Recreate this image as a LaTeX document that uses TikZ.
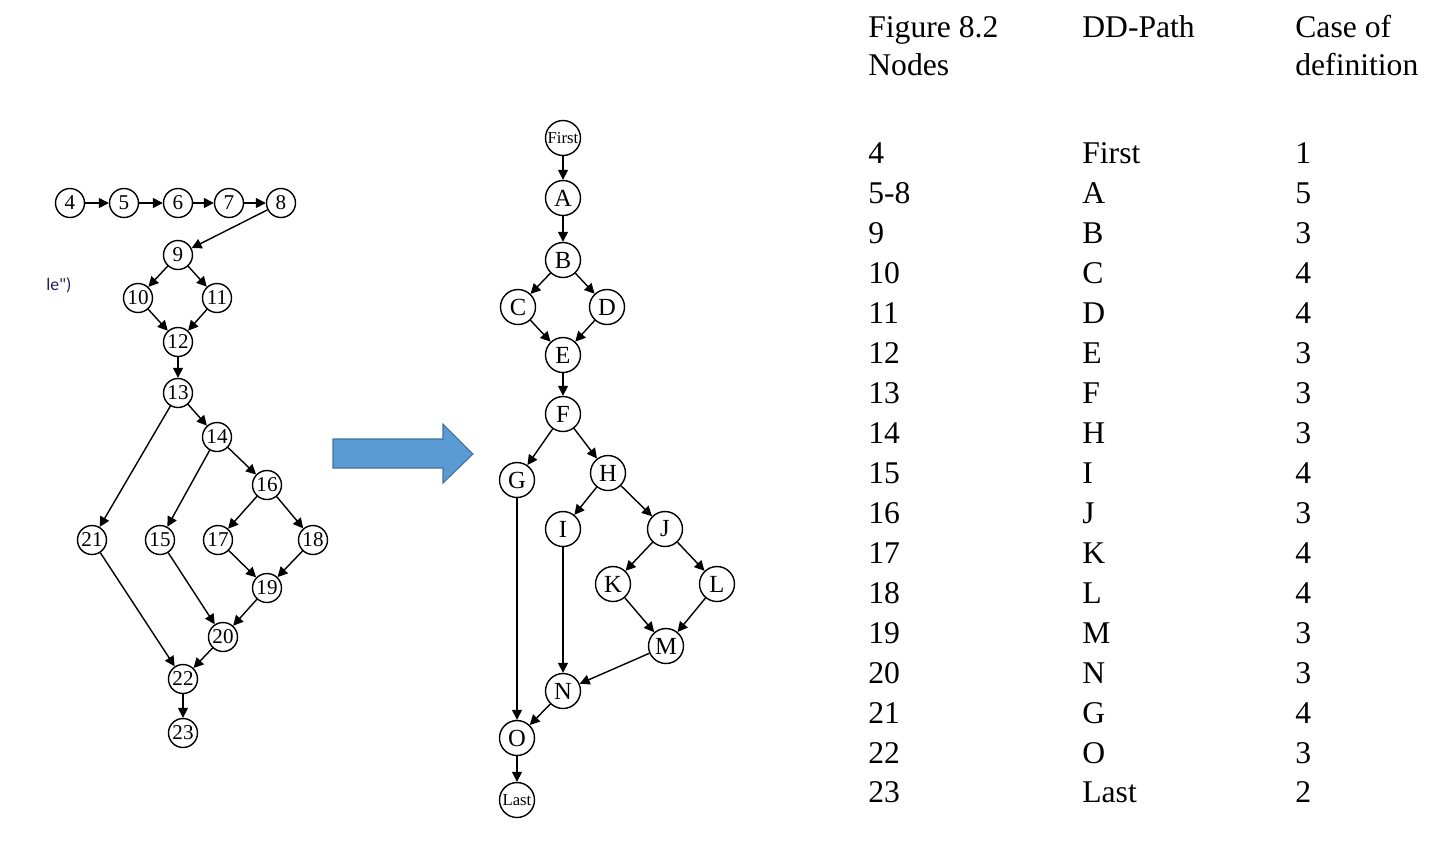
\documentclass[tikz,border=0pt]{standalone}
\usepackage{fontspec}
\setmainfont{Liberation Serif}
\newfontfamily\notefont{Carlito}
\usepackage{xcolor}
\usepackage{tikz}
\usetikzlibrary{arrows.meta}
\definecolor{blockfill}{HTML}{5B9BD5}
\definecolor{blockline}{HTML}{41719C}
\definecolor{notetext}{HTML}{1F1F5C}
\tikzset{
  pnode/.style={draw,circle,line width=0.8pt,minimum size=0.58cm,inner sep=0pt,font=\fontsize{12}{12}\selectfont},
  dnode/.style={draw,circle,line width=0.8pt,minimum size=0.70cm,inner sep=0pt,font=\fontsize{14}{14}\selectfont},
  dword/.style={dnode,font=\fontsize{9.5}{9.5}\selectfont},
  earr/.style={-{Triangle[length=2mm,width=2mm]},line width=0.8pt},
  tcell/.style={anchor=base west,inner sep=0pt,font=\fontsize{18}{18}\selectfont}
}

\begin{document}
\begin{tikzpicture}[x=0.02cm,y=-0.02cm]
  \useasboundingbox (0,0) rectangle (1436,840);
  \node[pnode] (p4) at (70,203) {4};
  \node[pnode] (p5) at (124,203) {5};
  \node[pnode] (p6) at (178,203) {6};
  \node[pnode] (p7) at (229,203) {7};
  \node[pnode] (p8) at (281,203) {8};
  \node[pnode] (p9) at (178,255) {9};
  \node[pnode] (p10) at (138,298) {10};
  \node[pnode] (p11) at (217,298) {11};
  \node[pnode] (p12) at (178,342) {12};
  \node[pnode] (p13) at (178,393) {13};
  \node[pnode] (p14) at (217,437) {14};
  \node[pnode] (p16) at (267,485) {16};
  \node[pnode] (p21) at (92,540) {21};
  \node[pnode] (p15) at (160,540) {15};
  \node[pnode] (p17) at (218,540) {17};
  \node[pnode] (p18) at (313,540) {18};
  \node[pnode] (p19) at (267,588) {19};
  \node[pnode] (p20) at (223,637) {20};
  \node[pnode] (p22) at (183,679) {22};
  \node[pnode] (p23) at (183,733) {23};
  \draw[earr] (p4) -- (p5); \draw[earr] (p5) -- (p6);
  \draw[earr] (p6) -- (p7); \draw[earr] (p7) -- (p8);
  \draw[earr] (p8) -- (p9);
  \draw[earr] (p9) -- (p10); \draw[earr] (p9) -- (p11);
  \draw[earr] (p10) -- (p12); \draw[earr] (p11) -- (p12);
  \draw[earr] (p12) -- (p13);
  \draw[earr] (p13) -- (p14); \draw[earr] (p13) -- (p21);
  \draw[earr] (p14) -- (p15); \draw[earr] (p14) -- (p16);
  \draw[earr] (p16) -- (p17); \draw[earr] (p16) -- (p18);
  \draw[earr] (p17) -- (p19); \draw[earr] (p18) -- (p19);
  \draw[earr] (p19) -- (p20); \draw[earr] (p15) -- (p20);
  \draw[earr] (p21) -- (p22); \draw[earr] (p20) -- (p22);
  \draw[earr] (p22) -- (p23);
  \node[anchor=base west,inner sep=0pt,text=notetext,font=\notefont\fontsize{10}{10}\selectfont] (cut) at (46,290) {le")};

  \draw[blockline,fill=blockfill,line width=0.6pt] (333,439) -- (443,439) -- (443,424) -- (473,454) -- (443,483) -- (443,468) -- (333,468) -- cycle;

  \node[dword] (first) at (563,138) {First};
  \node[dnode] (dA) at (563,198) {A};
  \node[dnode] (dB) at (563,260) {B};
  \node[dnode] (dC) at (518,307) {C};
  \node[dnode] (dD) at (607,307) {D};
  \node[dnode] (dE) at (563,355) {E};
  \node[dnode] (dF) at (563,414) {F};
  \node[dnode] (dG) at (517,480) {G};
  \node[dnode] (dH) at (608,473) {H};
  \node[dnode] (dI) at (563,529) {I};
  \node[dnode] (dJ) at (665,529) {J};
  \node[dnode] (dK) at (613,584) {K};
  \node[dnode] (dL) at (717,584) {L};
  \node[dnode] (dM) at (666,646) {M};
  \node[dnode] (dN) at (563,691) {N};
  \node[dnode] (dO) at (517,738) {O};
  \node[dword] (last) at (517,800) {Last};
  \draw[earr] (first) -- (dA); \draw[earr] (dA) -- (dB);
  \draw[earr] (dB) -- (dC); \draw[earr] (dB) -- (dD);
  \draw[earr] (dC) -- (dE); \draw[earr] (dD) -- (dE);
  \draw[earr] (dE) -- (dF);
  \draw[earr] (dF) -- (dG); \draw[earr] (dF) -- (dH);
  \draw[earr] (dH) -- (dI); \draw[earr] (dH) -- (dJ);
  \draw[earr] (dJ) -- (dK); \draw[earr] (dJ) -- (dL);
  \draw[earr] (dK) -- (dM); \draw[earr] (dL) -- (dM);
  \draw[earr] (dM) -- (dN); \draw[earr] (dI) -- (dN);
  \draw[earr] (dG) -- (dO); \draw[earr] (dN) -- (dO);
  \draw[earr] (dO) -- (last);

  \node[tcell] (h1a) at (868,37) {Figure 8.2};
  \node[tcell] (h1b) at (868,75) {Nodes};
  \node[tcell] (h2) at (1082,37) {DD-Path};
  \node[tcell] (h3a) at (1295,37) {Case of};
  \node[tcell] (h3b) at (1295,75) {definition};
  \node[tcell] (n1) at (868,163) {4}; \node[tcell] (d1) at (1082,163) {First}; \node[tcell] (c1) at (1295,163) {1};
  \node[tcell] (n2) at (868,203) {5-8}; \node[tcell] (d2) at (1082,203) {A}; \node[tcell] (c2) at (1295,203) {5};
  \node[tcell] (n3) at (868,243) {9}; \node[tcell] (d3) at (1082,243) {B}; \node[tcell] (c3) at (1295,243) {3};
  \node[tcell] (n4) at (868,283) {10}; \node[tcell] (d4) at (1082,283) {C}; \node[tcell] (c4) at (1295,283) {4};
  \node[tcell] (n5) at (868,323) {11}; \node[tcell] (d5) at (1082,323) {D}; \node[tcell] (c5) at (1295,323) {4};
  \node[tcell] (n6) at (868,363) {12}; \node[tcell] (d6) at (1082,363) {E}; \node[tcell] (c6) at (1295,363) {3};
  \node[tcell] (n7) at (868,403) {13}; \node[tcell] (d7) at (1082,403) {F}; \node[tcell] (c7) at (1295,403) {3};
  \node[tcell] (n8) at (868,443) {14}; \node[tcell] (d8) at (1082,443) {H}; \node[tcell] (c8) at (1295,443) {3};
  \node[tcell] (n9) at (868,483) {15}; \node[tcell] (d9) at (1082,483) {I}; \node[tcell] (c9) at (1295,483) {4};
  \node[tcell] (n10) at (868,523) {16}; \node[tcell] (d10) at (1082,523) {J}; \node[tcell] (c10) at (1295,523) {3};
  \node[tcell] (n11) at (868,563) {17}; \node[tcell] (d11) at (1082,563) {K}; \node[tcell] (c11) at (1295,563) {4};
  \node[tcell] (n12) at (868,603) {18}; \node[tcell] (d12) at (1082,603) {L}; \node[tcell] (c12) at (1295,603) {4};
  \node[tcell] (n13) at (868,643) {19}; \node[tcell] (d13) at (1082,643) {M}; \node[tcell] (c13) at (1295,643) {3};
  \node[tcell] (n14) at (868,683) {20}; \node[tcell] (d14) at (1082,683) {N}; \node[tcell] (c14) at (1295,683) {3};
  \node[tcell] (n15) at (868,723) {21}; \node[tcell] (d15) at (1082,723) {G}; \node[tcell] (c15) at (1295,723) {4};
  \node[tcell] (n16) at (868,763) {22}; \node[tcell] (d16) at (1082,763) {O}; \node[tcell] (c16) at (1295,763) {3};
  \node[tcell] (n17) at (868,802) {23}; \node[tcell] (d17) at (1082,802) {Last}; \node[tcell] (c17) at (1295,802) {2};
\end{tikzpicture}
\end{document}
